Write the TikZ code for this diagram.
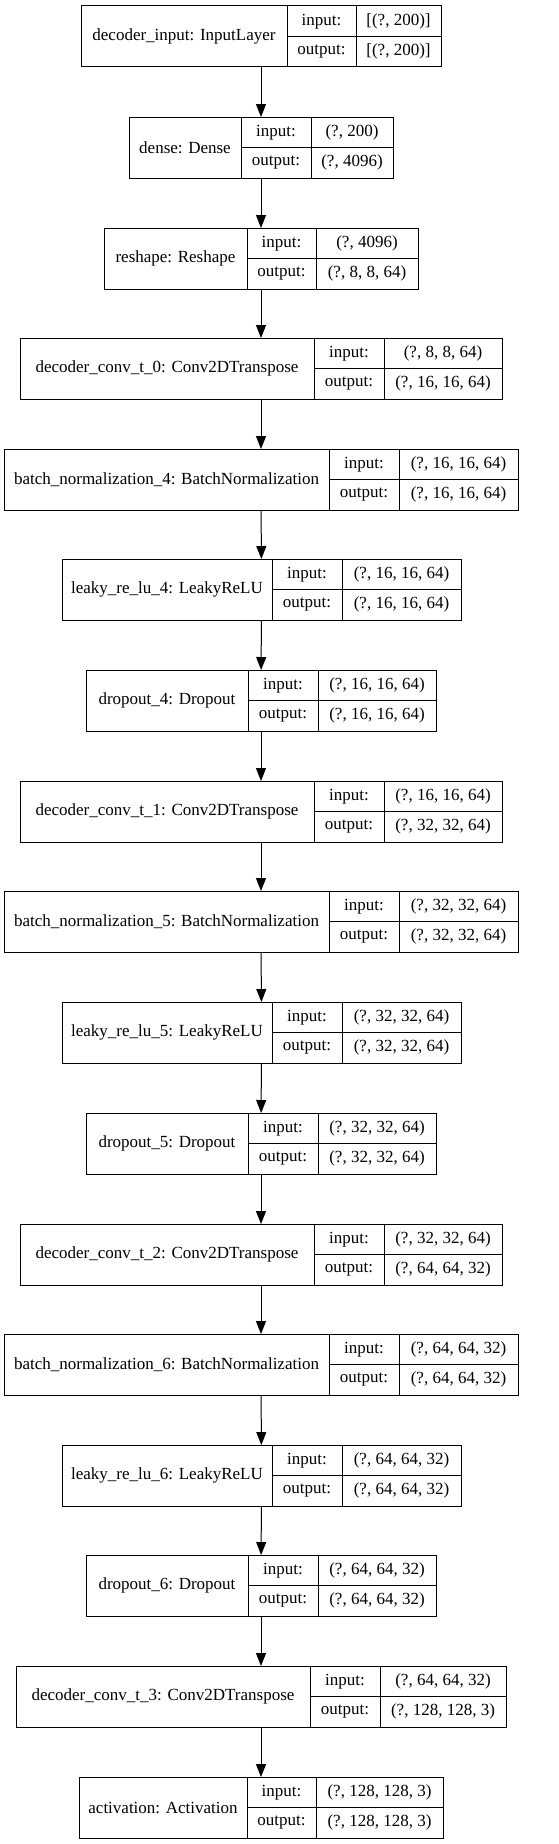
\documentclass[tikz,border=0pt]{standalone}
\usepackage{fontspec}
\setmainfont{Liberation Serif}
\usepackage{tikz}
\usetikzlibrary{arrows.meta}

% one keras layer record: name | input:/output: | shapes
% #1 node, #2 top, #3 left, #4 first bar, #5 second bar, #6 right
\newcommand{\layerbox}[9]{%
  \node[box, minimum width={(#6-#3)*1pt}] (#1) at (#3,#2) {};
  \node[cell, minimum width={(#4-#3)*1pt}, minimum height=61pt] (#1-name) at (#3,#2) {#7};
  \node[cell, minimum width={(#5-#4)*1pt}] (#1-inkey) at (#4,#2) {input:};
  \node[cell, minimum width={(#5-#4)*1pt}] (#1-outkey) at (#4,#2+30.5) {output:};
  \node[cell, minimum width={(#6-#5)*1pt}] (#1-inval) at (#5,#2) {#8};
  \node[cell, minimum width={(#6-#5)*1pt}] (#1-outval) at (#5,#2+30.5) {#9};
}

\begin{document}
\begin{tikzpicture}[x=1pt, y=-1pt, font=\fontsize{17}{20}\selectfont,
    box/.style={anchor=north west, inner sep=0pt, outer sep=0pt, minimum height=61pt},
    cell/.style={draw, line width=1pt, anchor=north west, inner sep=0pt, outer sep=0pt, minimum height=30.5pt},
    flow/.style={line width=1pt, -{Triangle[length=13pt, width=10pt]}}]
  \useasboundingbox (0,0) rectangle (559,1844);

  \layerbox{input}{6}{81}{287}{356}{441}{decoder\_input: InputLayer}{[(?, 200)]}{[(?, 200)]}
  \layerbox{dense}{117}{129}{241}{311}{393}{dense: Dense}{(?, 200)}{(?, 4096)}
  \layerbox{reshape}{228}{104}{247}{316}{418}{reshape: Reshape}{(?, 4096)}{(?, 8, 8, 64)}
  \layerbox{convt0}{338}{20}{314}{384}{502}{decoder\_conv\_t\_0: Conv2DTranspose}{(?, 8, 8, 64)}{(?, 16, 16, 64)}
  \layerbox{bnorm4}{449}{4}{329}{399}{518}{batch\_normalization\_4: BatchNormalization}{(?, 16, 16, 64)}{(?, 16, 16, 64)}
  \layerbox{lrelu4}{559}{62}{272}{342}{461}{leaky\_re\_lu\_4: LeakyReLU}{(?, 16, 16, 64)}{(?, 16, 16, 64)}
  \layerbox{drop4}{670}{86}{248}{318}{436}{dropout\_4: Dropout}{(?, 16, 16, 64)}{(?, 16, 16, 64)}
  \layerbox{convt1}{781}{20}{314}{384}{502}{decoder\_conv\_t\_1: Conv2DTranspose}{(?, 16, 16, 64)}{(?, 32, 32, 64)}
  \layerbox{bnorm5}{891}{4}{329}{399}{518}{batch\_normalization\_5: BatchNormalization}{(?, 32, 32, 64)}{(?, 32, 32, 64)}
  \layerbox{lrelu5}{1002}{62}{272}{342}{461}{leaky\_re\_lu\_5: LeakyReLU}{(?, 32, 32, 64)}{(?, 32, 32, 64)}
  \layerbox{drop5}{1113}{86}{248}{318}{436}{dropout\_5: Dropout}{(?, 32, 32, 64)}{(?, 32, 32, 64)}
  \layerbox{convt2}{1224}{20}{314}{384}{502}{decoder\_conv\_t\_2: Conv2DTranspose}{(?, 32, 32, 64)}{(?, 64, 64, 32)}
  \layerbox{bnorm6}{1334}{4}{329}{399}{518}{batch\_normalization\_6: BatchNormalization}{(?, 64, 64, 32)}{(?, 64, 64, 32)}
  \layerbox{lrelu6}{1445}{62}{272}{342}{461}{leaky\_re\_lu\_6: LeakyReLU}{(?, 64, 64, 32)}{(?, 64, 64, 32)}
  \layerbox{drop6}{1555}{86}{248}{318}{436}{dropout\_6: Dropout}{(?, 64, 64, 32)}{(?, 64, 64, 32)}
  \layerbox{convt3}{1666}{16}{310}{380}{506}{decoder\_conv\_t\_3: Conv2DTranspose}{(?, 64, 64, 32)}{(?, 128, 128, 3)}
  \layerbox{act}{1777}{79}{247}{316}{443}{activation: Activation}{(?, 128, 128, 3)}{(?, 128, 128, 3)}

  \draw[flow]
    (input) edge (dense)
    (dense) edge (reshape)
    (reshape) edge (convt0)
    (convt0) edge (bnorm4)
    (bnorm4) edge (lrelu4)
    (lrelu4) edge (drop4)
    (drop4) edge (convt1)
    (convt1) edge (bnorm5)
    (bnorm5) edge (lrelu5)
    (lrelu5) edge (drop5)
    (drop5) edge (convt2)
    (convt2) edge (bnorm6)
    (bnorm6) edge (lrelu6)
    (lrelu6) edge (drop6)
    (drop6) edge (convt3)
    (convt3) edge (act);
\end{tikzpicture}
\end{document}
